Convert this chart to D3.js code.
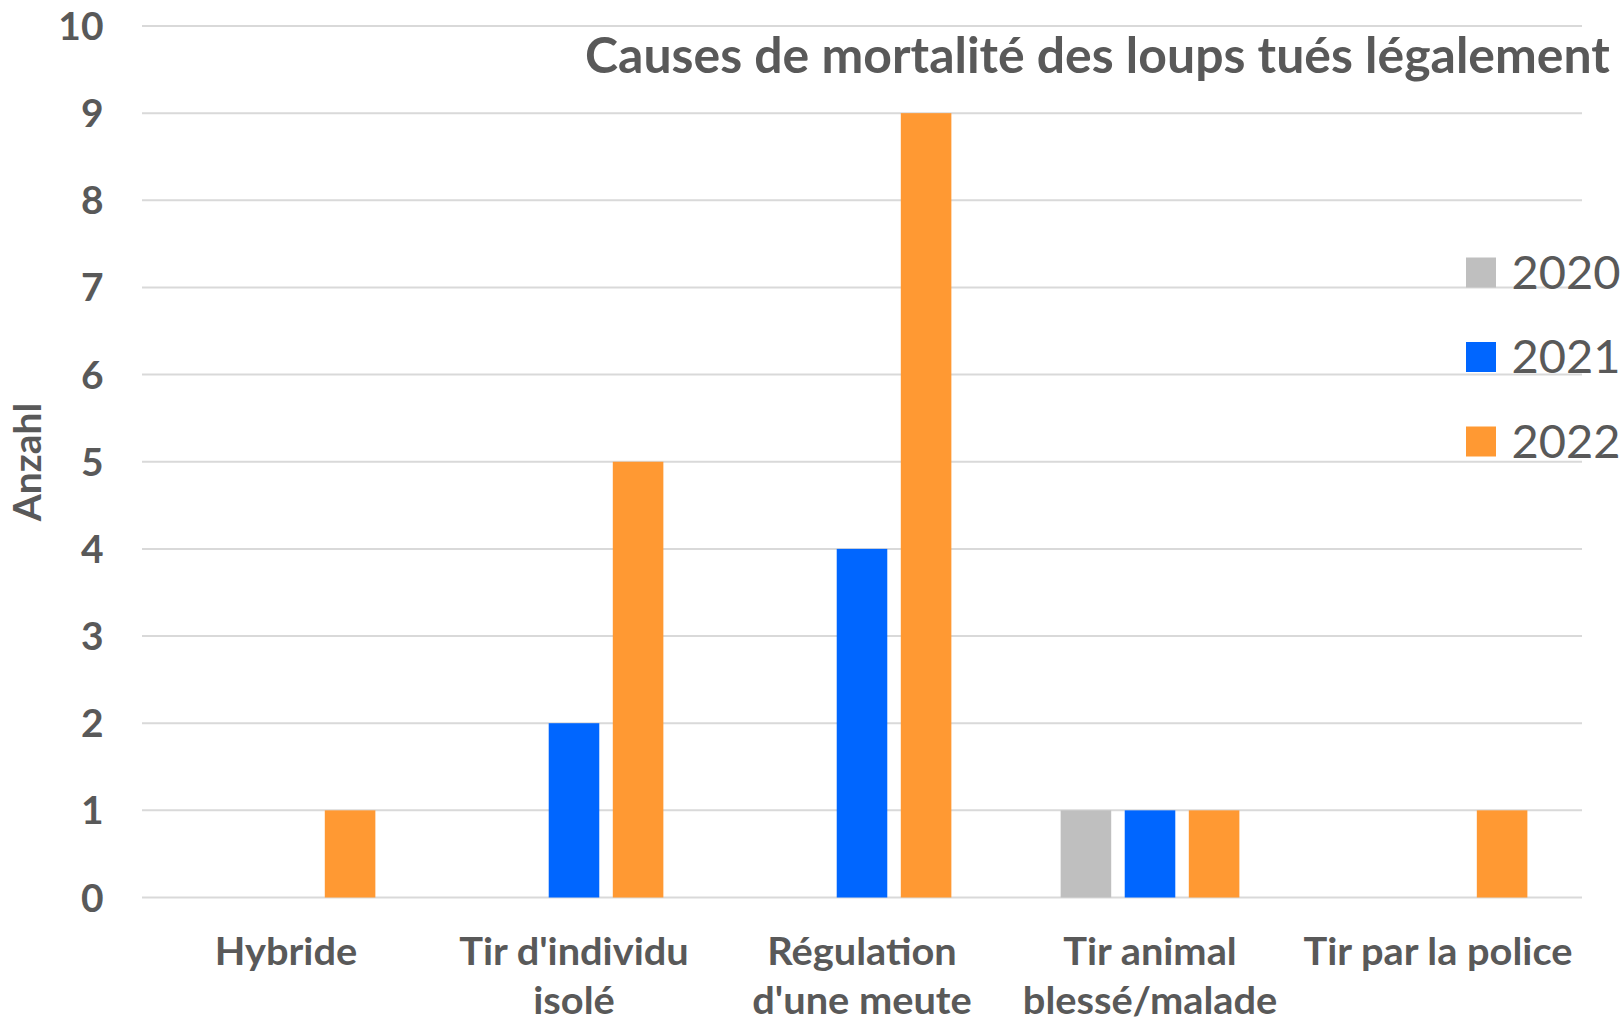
<!DOCTYPE html>
<html>
<head>
<meta charset="utf-8">
<script src="https://cdn.jsdelivr.net/npm/d3@7"></script>
<style>
  html, body { margin: 0; padding: 0; background: #fff; }
  svg { display: block; }
  text { font-family: Lato, "Open Sans", sans-serif; fill: #595959; }
</style>
</head>
<body>
<svg id="chart" width="1622" height="1024"></svg>
<script>
// ---- data ----
const categories = [
  ["Hybride"],
  ["Tir d'individu", "isolé"],
  ["Régulation", "d'une meute"],
  ["Tir animal", "blessé/malade"],
  ["Tir par la police"]
];
const years = ["2020", "2021", "2022"];
const values2020 = [0, 0, 0, 1, 0];
const values2021 = [0, 2, 4, 1, 0];
const values2022 = [1, 5, 9, 1, 1];
const yTicks = [0, 1, 2, 3, 4, 5, 6, 7, 8, 9, 10];
const colors = ["#BFBFBF", "#0066FF", "#FF9933"];
const titleText = "Causes de mortalité des loups tués légalement";
const yLabel = "Anzahl";

const seriesValues = [values2020, values2021, values2022];
const catKeys = categories.map(c => c.join(" "));

const svg = d3.select("#chart");

const x0 = d3.scaleBand().domain(catKeys).range([142, 1582])
  .paddingInner(0.2855).paddingOuter(0.1427);
const x1 = d3.scaleBand().domain(years).range([0, x0.bandwidth()]).padding(0.211);
const y = d3.scaleLinear().domain([0, 10]).range([897.5, 26]);

// gridlines
svg.append("g").selectAll("line").data(yTicks).join("line")
  .attr("x1", 142).attr("x2", 1582)
  .attr("y1", d => y(d)).attr("y2", d => y(d))
  .attr("stroke", "#D9D9D9").attr("stroke-width", 2);

// title (measure to compute condensation relative to Calibri-like width)
const title = svg.append("text")
  .attr("font-size", 50).attr("font-weight", 700)
  .text(titleText);
const titleW = title.node().getComputedTextLength();
const sx = 1025 / titleW;
title.attr("transform", `translate(${1610 - 1025},72.5) scale(${sx},1)`);

// y tick labels
svg.append("g").selectAll("text").data(yTicks).join("text")
  .attr("font-size", 39).attr("font-weight", 700)
  .attr("text-anchor", "end")
  .attr("transform", d => `translate(103.5,${y(d) + 14}) scale(${sx},1)`)
  .text(d => d);

// y axis label
svg.append("text")
  .attr("font-size", 39).attr("font-weight", 700)
  .attr("text-anchor", "middle")
  .attr("transform", `translate(40.5,462) rotate(-90) scale(${sx},1)`)
  .text(yLabel);

// bars
const groups = svg.append("g").selectAll("g").data(catKeys).join("g")
  .attr("transform", d => `translate(${x0(d)},0)`);
groups.selectAll("rect")
  .data((d, i) => years.map((yr, s) => ({ yr, v: seriesValues[s][i], c: colors[s] })))
  .join("rect")
  .attr("x", d => x1(d.yr))
  .attr("width", x1.bandwidth())
  .attr("y", d => y(d.v))
  .attr("height", d => y(0) - y(d.v))
  .attr("fill", d => d.c);

// category labels
const catG = svg.append("g").selectAll("g").data(categories).join("g")
  .attr("transform", (d, i) => `translate(${x0(catKeys[i]) + x0.bandwidth() / 2},0)`);
catG.selectAll("text").data(d => d).join("text")
  .attr("font-size", 39).attr("font-weight", 700)
  .attr("text-anchor", "middle")
  .attr("transform", (d, j) => `translate(0,${965 + j * 49}) scale(${sx * 1.02},1)`)
  .text(d => d);

// legend
const legend = svg.append("g").selectAll("g").data(years).join("g")
  .attr("transform", (d, i) => `translate(1466,${272.5 + i * 84.5})`);
legend.append("rect")
  .attr("x", 0).attr("y", -15).attr("width", 30).attr("height", 30)
  .attr("fill", (d, i) => colors[i]);
legend.append("text")
  .attr("font-size", 47).attr("font-weight", 400)
  .attr("transform", `translate(45.5,16) scale(${Math.min(1, sx * 1.05)},1)`)
  .text(d => d);
</script>
</body>
</html>
